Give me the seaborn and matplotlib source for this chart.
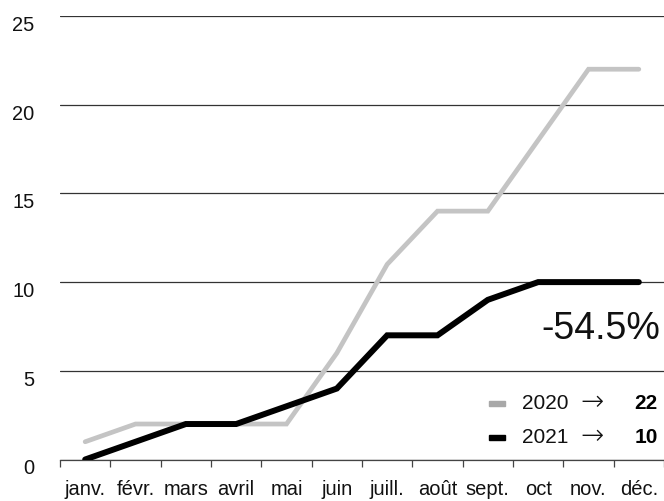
import numpy as np
import pandas as pd
import matplotlib
matplotlib.use("Agg")
import matplotlib.pyplot as plt
import seaborn as sns
from matplotlib.transforms import ScaledTranslation
from matplotlib.patches import Rectangle

months = ["janv.", "févr.", "mars", "avril", "mai", "juin", "juill.", "août", "sept.", "oct", "nov.", "déc."]
values_2020 = [1, 2, 2, 2, 2, 6, 11, 14, 14, 18, 22, 22]
values_2021 = [0, 1, 2, 2, 3, 4, 7, 7, 9, 10, 10, 10]
years = ["2020", "2021"]
yticks = [0, 5, 10, 15, 20, 25]

sns.set_theme(style="white")
plt.rcParams["font.family"] = ["Liberation Sans", "DejaVu Sans"]

df = pd.DataFrame({
    "month": months * 2,
    "value": values_2020 + values_2021,
    "year": [years[0]] * 12 + [years[1]] * 12,
})

fig = plt.figure(figsize=(6.64, 5.01), dpi=100)
ax = fig.add_axes([60 / 664, 41.5 / 501, 604 / 664, 443.5 / 501])

line_colors = {"2020": "#c4c4c4", "2021": "#000000"}
patch_colors = {"2020": "#a8a8a8", "2021": "#000000"}
widths = {"2020": 3.4, "2021": 4.3}
for yr in years:
    sns.lineplot(data=df[df.year == yr], x="month", y="value", color=line_colors[yr],
                 linewidth=widths[yr], ax=ax, sort=False, solid_capstyle="round",
                 solid_joinstyle="miter", zorder=3)

ax.set_xlim(-0.5, 11.5)
ax.set_ylim(0, 25)
ax.set_xlabel("")
ax.set_ylabel("")

for s in ["left", "right", "top"]:
    ax.spines[s].set_visible(False)
ax.spines["bottom"].set_color("#444444")
ax.spines["bottom"].set_linewidth(0.9)

ax.set_yticks(yticks)
ax.set_yticklabels([str(v) for v in yticks])
ax.yaxis.grid(True, color="#333333", linewidth=0.9)
ax.set_axisbelow(True)
ax.tick_params(axis="y", length=0, pad=18.4, labelsize=14.4, labelcolor="#111111")
for lab in ax.get_yticklabels():
    lab.set_horizontalalignment("right")
    lab.set_transform(lab.get_transform() + ScaledTranslation(0, -0.075, fig.dpi_scale_trans))

ax.set_xticks(range(12))
ax.set_xticklabels(months)
ax.set_xticks(np.arange(-0.5, 12, 1), minor=True)
ax.tick_params(axis="x", which="major", length=0, pad=15, labelsize=14.5, labelcolor="#111111")
ax.tick_params(axis="x", which="minor", length=5, width=0.9, color="#444444", bottom=True)

# percentage change
pct = (values_2021[-1] - values_2020[-1]) / values_2020[-1] * 100
ax.text(0.993, 0.295, f"{pct:.1f}%", transform=ax.transAxes, ha="right", va="center",
        fontsize=27, color="#111111", zorder=5)

# legend-like annotations
rows = [(years[0], values_2020[-1], 0.126), (years[1], values_2021[-1], 0.049)]
for yr, last, yy in rows:
    ax.add_patch(Rectangle((0.710, yy - 0.006), 0.027, 0.013, transform=ax.transAxes,
                           color=patch_colors[yr], clip_on=False))
    ax.text(0.765, yy, yr, transform=ax.transAxes, ha="left", va="center", fontsize=15, color="#111111")
    ax.text(0.862, yy + 0.004, "\u2192", transform=ax.transAxes, ha="left", va="center", fontsize=20,
            color="#111111", family=["DejaVu Sans"], fontweight="light")
    ax.text(0.990, yy, str(last), transform=ax.transAxes, ha="right", va="center", fontsize=15,
            fontweight="heavy", color="#000000")

fig.savefig("out.png", dpi=100)
